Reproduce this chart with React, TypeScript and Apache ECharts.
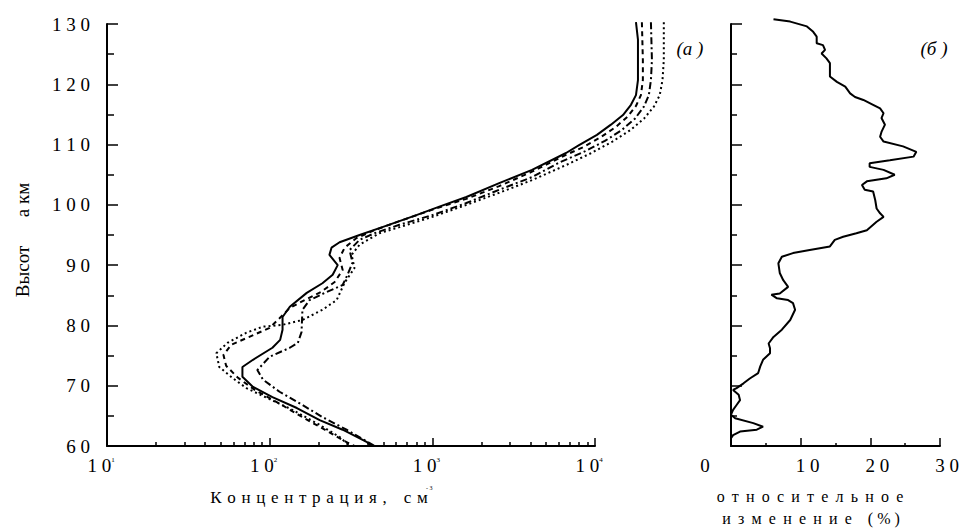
import React, { useEffect, useRef } from "react";
import * as echarts from "echarts";

const FONT = '"Liberation Serif", "Times New Roman", serif';

// Panel (а): concentration (cm^-3) vs height (km)
const solidCurve: [number, number][] = [[17858,130.3],[18370,127.4],[18370,120.7],[17858,118.2],[16634,116.6],[14859,114.9],[12531,113.3],[10280,111.6],[7979,109.9],[6637,108.6],[4101,105.8],[2576,103.6],[1619,101.3],[1104,99.7],[798,98.3],[493,96.3],[357,95.0],[269,93.8],[240,92.9],[233,91.7],[262,90.0],[244,88.4],[211,87.0],[169,85.4],[133,83.1],[120,81.4],[120,79.3],[116,77.6],[104,76.3],[79,74.3],[68,73.1],[68,71.5],[79,69.8],[104,68.1],[147,66.3],[203,64.3],[281,62.7],[394,60.7],[422,60.0]];
const dashedCurve: [number, number][] = [[19421,130.3],[19690,124.0],[19690,120.7],[19153,118.2],[17858,116.4],[15800,114.6],[13400,112.9],[10800,111.2],[8500,109.6],[6637,108.3],[4101,105.5],[2576,103.1],[1619,101.0],[1000,99.2],[628,97.3],[441,95.8],[342,94.5],[289,92.9],[269,91.2],[281,89.2],[251,87.2],[208,85.6],[164,84.2],[133,82.9],[115,81.2],[100,79.6],[75,78.1],[58,76.8],[52,75.1],[54,73.3],[64,71.3],[81,69.3],[112,67.2],[159,64.8],[218,62.7],[289,60.8],[332,60.0]];
const dashDotCurve: [number, number][] = [[22070,130.3],[22387,124.0],[22070,120.7],[21430,118.2],[19977,116.3],[17600,114.3],[14600,112.4],[11500,110.6],[8700,108.9],[6012,107.0],[4101,104.6],[2576,102.5],[1619,100.3],[1000,98.3],[628,96.7],[441,95.3],[357,94.2],[310,92.5],[323,90.4],[301,88.4],[281,86.7],[218,85.4],[176,84.2],[159,82.6],[157,78.9],[149,77.1],[133,76.3],[100,74.8],[84,72.6],[91,71.0],[115,69.0],[159,66.8],[211,64.8],[297,62.7],[399,60.7],[441,60.0]];
const dottedCurve: [number, number][] = [[26486,130.3],[26486,124.0],[26000,120.7],[25000,118.2],[23014,116.3],[20000,114.3],[16500,112.4],[12800,110.5],[9500,108.6],[6637,106.6],[4101,104.1],[2576,102.0],[1619,100.0],[1000,98.0],[628,96.3],[473,95.3],[357,93.4],[319,91.7],[332,89.5],[289,87.1],[258,84.2],[211,82.6],[159,80.9],[120,80.1],[91,79.8],[72,78.8],[55,77.1],[47,75.4],[49,73.1],[59,71.3],[72,69.6],[96,68.0],[138,66.0],[203,63.5],[269,61.5],[310,60.0]];

// Panel (б): relative change (%) vs height (km)
const relChange: [number, number][] = [[6.1,130.8],[8.5,130.4],[10.9,129.6],[11.8,128.7],[12.3,127.9],[12.3,126.8],[13.2,126.5],[13.5,125.7],[13.0,125.1],[13.7,124.3],[14.2,123.5],[14.2,121.3],[15.2,120.4],[16.4,119.6],[17.1,118.5],[17.8,117.9],[19.0,117.4],[20.4,116.6],[21.4,116.0],[21.9,115.2],[21.6,114.4],[22.1,113.3],[21.6,112.1],[21.4,111.3],[21.9,110.5],[24.7,109.7],[26.6,108.8],[26.2,108.0],[22.8,107.4],[19.9,106.9],[19.9,106.3],[21.9,105.8],[23.5,105.0],[22.3,104.4],[19.5,103.9],[18.8,103.3],[19.2,102.5],[20.4,102.2],[20.7,100.8],[20.9,99.4],[21.4,98.6],[21.9,98.0],[20.9,97.2],[19.5,95.8],[18.0,95.3],[16.1,94.7],[14.9,94.2],[14.2,93.1],[11.3,92.5],[8.9,92.0],[7.3,91.4],[6.8,90.3],[7.0,88.7],[7.5,87.5],[8.2,86.4],[7.0,85.3],[5.8,85.1],[6.6,84.5],[8.2,84.2],[8.9,83.7],[9.2,82.6],[8.5,80.9],[7.3,79.3],[6.1,78.1],[5.4,77.0],[5.6,76.2],[5.6,75.4],[4.6,74.3],[4.2,73.2],[3.9,72.1],[2.7,71.2],[1.8,70.4],[0.8,69.6],[0.3,69.3],[1.1,68.5],[1.3,67.6],[0.8,66.8],[0.3,66.0],[0,65.2],[0.6,64.6],[3.2,63.8],[4.6,63.2],[3.7,62.7],[1.3,62.4],[0.3,61.8],[0,61.3]];

// Axes
const heightMin = 60;
const heightMax = 130;
const heightStep = 10;
const decadeExponents = [1, 2, 3, 4];
const minorMultipliers = [2, 3, 4, 5, 6, 7, 8, 9];
const curveExponentMax = 4.45; // the curves run past the 10^4 end of the drawn axis
const pctMin = 0;
const pctMax = 30;
const pctStep = 10;

const spaced = (s: string, sep = " ") => s.split("").join(sep);
const toLog = (arr: [number, number][]) => arr.map(([c, h]) => [Math.log10(c), h]);

const minorLogTicks: number[] = [];
decadeExponents.slice(0, -1).forEach((e) => minorMultipliers.forEach((m) => minorLogTicks.push(e + Math.log10(m))));

const axisLine = { show: true, lineStyle: { color: "#000", width: 2 } };
const tickStyle = { color: "#000", width: 1.5 };

// geometry of panel (а)
const LEFT_X = 107;
const LEFT_W = 488;
const PLOT_TOP = 24;
const PLOT_H = 422;
const decadeW = LEFT_W / (decadeExponents[decadeExponents.length - 1] - decadeExponents[0]);

export default function App() {
  const ref = useRef<HTMLDivElement>(null);
  useEffect(() => {
    const chart = echarts.init(ref.current!, null, { renderer: "svg" });
    const lineSeries = (data: [number, number][], type: any, name: string) => ({
      name,
      type: "line",
      xAxisIndex: 3,
      yAxisIndex: 2,
      data: toLog(data),
      showSymbol: false,
      symbol: "none",
      clip: false,
      lineStyle: { color: "#000", width: 2, type },
    });
    const sep = " \u200A";
    chart.setOption({
      animation: false,
      backgroundColor: "#fff",
      textStyle: { fontFamily: FONT },
      grid: [
        { left: LEFT_X, top: PLOT_TOP, width: LEFT_W, height: PLOT_H },
        { left: 731, top: PLOT_TOP, width: 209, height: PLOT_H },
        { left: LEFT_X, top: PLOT_TOP, width: decadeW * (curveExponentMax - decadeExponents[0]), height: PLOT_H },
      ],
      xAxis: [
        {
          gridIndex: 0, type: "value", min: decadeExponents[0], max: decadeExponents[decadeExponents.length - 1], interval: 1,
          position: "bottom", axisLine, splitLine: { show: false },
          axisTick: { show: true, inside: true, length: 8, lineStyle: tickStyle },
          axisLabel: {
            margin: 10, color: "#000", padding: [0, 12, 0, 0],
            formatter: (v: number) => `{m|1 0}{s|${v}}`,
            rich: {
              m: { fontSize: 19, fontFamily: FONT, color: "#000" },
              s: { fontSize: 7, fontFamily: FONT, color: "#000", verticalAlign: "top" },
            },
          },
        },
        {
          gridIndex: 0, type: "value", min: decadeExponents[0], max: decadeExponents[decadeExponents.length - 1],
          position: "bottom", axisLine: { show: false }, splitLine: { show: false },
          axisTick: { show: true, inside: true, length: 4, customValues: minorLogTicks, lineStyle: tickStyle },
          axisLabel: { show: false },
        },
        {
          gridIndex: 1, type: "value", min: pctMin, max: pctMax, interval: pctStep,
          position: "bottom", axisLine, splitLine: { show: false },
          axisTick: { show: true, inside: true, length: 8, lineStyle: tickStyle },
          minorTick: { show: true, splitNumber: 2, length: 3, lineStyle: tickStyle },
          axisLabel: {
            margin: 10, color: "#000",
            formatter: (v: number) => (v === 0 ? "{z|0}" : `{n|${spaced(String(v))}}`),
            rich: {
              z: { fontSize: 19, fontFamily: FONT, color: "#000", padding: [0, 52, 0, 0] },
              n: { fontSize: 19, fontFamily: FONT, color: "#000", padding: [0, 0, 0, 14] },
            },
          },
        },
        {
          gridIndex: 2, type: "value", min: decadeExponents[0], max: curveExponentMax, show: false,
        },
      ],
      yAxis: [
        {
          gridIndex: 0, type: "value", min: heightMin, max: heightMax, interval: heightStep,
          axisLine, splitLine: { show: false },
          axisTick: { show: true, inside: true, length: 11, lineStyle: tickStyle },
          minorTick: { show: true, splitNumber: 2, length: 7, lineStyle: tickStyle },
          axisLabel: { margin: 17, color: "#000", fontSize: 19, fontFamily: FONT, formatter: (v: number) => spaced(String(v)) },
        },
        {
          gridIndex: 1, type: "value", min: heightMin, max: heightMax, interval: heightStep,
          axisLine, splitLine: { show: false },
          axisTick: { show: true, inside: true, length: 11, lineStyle: tickStyle },
          minorTick: { show: true, splitNumber: 2, length: 6, lineStyle: tickStyle },
          axisLabel: { show: false },
        },
        {
          gridIndex: 2, type: "value", min: heightMin, max: heightMax, show: false,
        },
      ],
      series: [
        lineSeries(dottedCurve, [2, 3], "dotted"),
        lineSeries(dashDotCurve, [7, 3, 2, 3], "dashdot"),
        lineSeries(dashedCurve, [5, 4], "dashed"),
        lineSeries(solidCurve, "solid", "solid"),
        {
          name: "rel",
          type: "line",
          xAxisIndex: 2,
          yAxisIndex: 1,
          data: relChange,
          showSymbol: false,
          symbol: "none",
          clip: false,
          lineStyle: { color: "#000", width: 2 },
        },
      ],
      graphic: [
        { type: "text", x: 22, y: 240, rotation: Math.PI / 2, style: { text: "Высот      а км", font: `19px ${FONT}`, fill: "#000", align: "center", verticalAlign: "middle" } },
        { type: "text", x: 319, y: 497, style: { text: spaced("Концентрация,", sep) + "    " + spaced("см", sep), font: `17px ${FONT}`, fill: "#000", align: "center", verticalAlign: "middle" } },
        { type: "text", x: 426, y: 488, style: { text: "- 3", font: `6px ${FONT}`, fill: "#000", align: "left", verticalAlign: "middle" } },
        { type: "text", x: 810, y: 496, style: { text: spaced("относительное", " \u2009"), font: `16px ${FONT}`, fill: "#000", align: "center", verticalAlign: "middle" } },
        { type: "text", x: 811, y: 518, style: { text: spaced("изменение", " \u2009") + "    ( % )", font: `16px ${FONT}`, fill: "#000", align: "center", verticalAlign: "middle" } },
        { type: "text", x: 690, y: 48, style: { text: "(a )", font: `italic 19px ${FONT}`, fill: "#000", align: "center", verticalAlign: "middle" } },
        { type: "text", x: 934, y: 48, style: { text: "(б )", font: `italic 19px ${FONT}`, fill: "#000", align: "center", verticalAlign: "middle" } },
      ],
    });
    return () => chart.dispose();
  }, []);
  return <div ref={ref} style={{ position: "fixed", left: 0, top: 0, width: 971, height: 530, background: "#fff" }} />;
}
